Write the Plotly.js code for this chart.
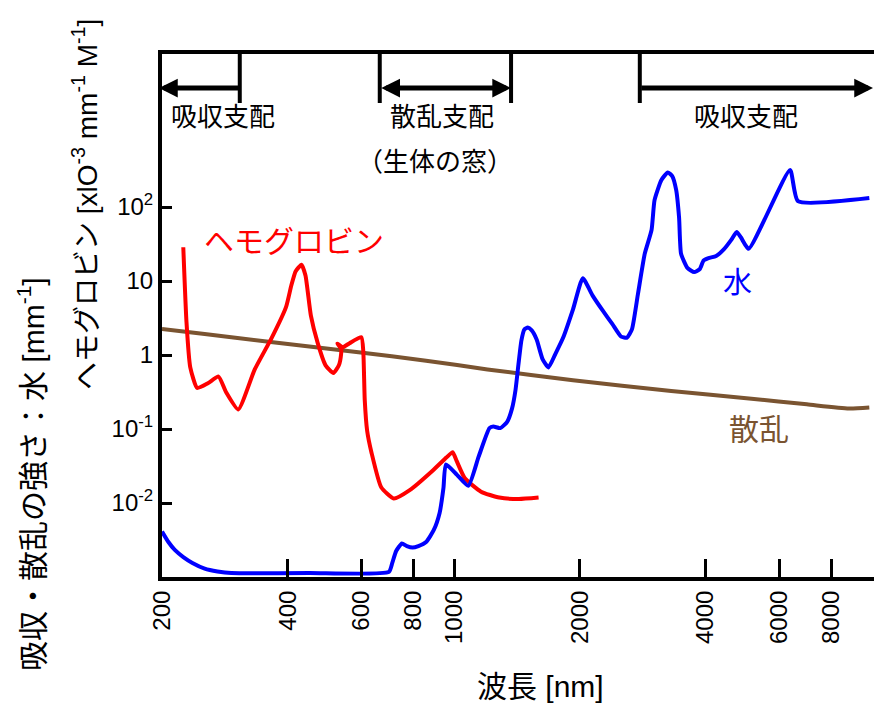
<!DOCTYPE html>
<html>
<head>
<meta charset="utf-8">
<script src="https://cdn.plot.ly/plotly-3.0.1.min.js"></script>
<style>html,body{margin:0;padding:0;background:#fff;}#chart{width:874px;height:707px;}</style>
</head>
<body>
<div id="chart"></div>
<script>
// ---- data ----
const xTickVals = [200, 400, 600, 800, 1000, 2000, 4000, 6000, 8000];
const xTickText = ['200', '400', '600', '800', '1000', '2000', '4000', '6000', '8000'];
const yTickVals = [0.01, 0.1, 1, 10, 100];
const yTickText = ['10<sup>-2</sup>', '10<sup>-1</sup>', '1', '10', '10<sup>2</sup>'];

// hemoglobin
const hbWl = [224.9, 228.9, 233.7, 242.8, 257.5, 273.1, 284.6, 304.5, 333.4, 366.3,
  396.5, 407.8, 417.8, 431.5, 441.0, 454.3, 471.8, 492.6, 514.4, 530.0,
  536.6, 536.6, 525.7, 541.6, 562.3, 600.0, 606.4, 611.3, 619.5, 634.5,
  669.3, 717.3, 783.2, 889.6, 958.4, 992.1, 1013.6, 1061.4, 1160.3, 1283.1,
  1429.9, 1593.2];
const hbAbs = [28.6, 2.78, 0.681, 0.359, 0.415, 0.511, 0.316, 0.184, 0.639, 1.717,
  4.51, 8.68, 13.56, 16.62, 11.85, 3.40, 1.447, 0.726, 0.572, 0.726,
  1.029, 1.220, 1.427, 1.273, 1.447, 1.741, 1.121, 0.245, 0.094, 0.0479,
  0.01634, 0.01148, 0.01491, 0.02754, 0.0411, 0.0486, 0.0374, 0.02154, 0.01423, 0.01184,
  0.01131, 0.01184];

// water
const waterWl = [200, 207.2, 214.6, 224.9, 236.5, 253.0, 271.5, 293.0, 450.6, 698.4,
  711.5, 726.8, 750.4, 770.7, 795.8, 821.5, 857.2, 894.4, 923.4, 943.2,
  955.8, 1016.4, 1081.6, 1145.0, 1215.3, 1241.9, 1290.0, 1339.8, 1376.6, 1403.0,
  1426.0, 1449.4, 1473.1, 1501.3, 1534.2, 1576.3, 1628.4, 1682.1, 1747.1, 1824.5,
  1925.9, 2032.8, 2145.9, 2265.3, 2391.3, 2510.8, 2593.7, 2664.9, 2752.9, 2859.3,
  2969.7, 3018.4, 3134.9, 3247.3, 3327.4, 3400.3, 3455.9, 3493.6, 3622.6, 3754.5,
  3872.2, 3957.0, 4063.7, 4238.6, 4421.0, 4611.2, 4746.6, 4860.5, 5069.6, 6370,
  6652.8, 9858];
const waterAbs = [0.00412, 0.00297, 0.00232, 0.00186, 0.00155, 0.00130, 0.00119, 0.00113, 0.00113, 0.00117,
  0.00155, 0.00225, 0.00284, 0.00262, 0.00250, 0.00262, 0.00297, 0.00432, 0.00733, 0.0159,
  0.0331, 0.0240, 0.0171, 0.0423, 0.103, 0.108, 0.103, 0.125, 0.190, 0.337,
  0.750, 1.58, 2.22, 2.35, 2.15, 1.62, 0.88, 0.68, 1.03, 1.72,
  4.14, 10.9, 6.35, 4.03, 2.63, 1.77, 1.72, 2.22, 6.53, 23.3,
  49.1, 124, 232, 293, 262, 170, 71.3, 23.3, 14.9, 13.2,
  14.5, 19.0, 20.4, 21.8, 26.7, 36.2, 45.9, 38.7, 27.2, 316,
  120, 132];

// scattering
const scatWl = [200, 253.0, 359.9, 590.4, 857.2, 1202.3, 1925.9, 3309.4, 5150.3, 6985.5, 8810, 9858];
const scatVal = [2.248, 1.923, 1.510, 1.089, 0.839, 0.639, 0.457, 0.3265, 0.2568, 0.2154, 0.1896, 0.1957];

// region boundaries (nm) of the top arrows
const regionEdges = [307, 664, 1369, 2783];

// ---- layout geometry ----
const W = 874, H = 707;
const L = 162, R = 0, T = 54, B = 130;
const PW = W - L - R, PH = H - T - B;
const xr = [Math.log10(200), 4.005];
const yr = [-3.0, 4.068];
const px2paper = p => (p - L) / PW;
const py2paper = p => (H - B - p) / PH;
const wl2px = w => L + (Math.log10(w) - xr[0]) / (xr[1] - xr[0]) * PW;

const CJK = 'Liberation Sans, Arial, Noto Sans CJK JP, sans-serif';
const brown = '#7a5431';

const traces = [
  {x: scatWl, y: scatVal, mode: 'lines', line: {color: brown, width: 4, shape: 'spline', smoothing: 0.6}, hoverinfo: 'skip'},
  {x: hbWl, y: hbAbs, mode: 'lines', line: {color: '#ff0000', width: 4, shape: 'spline', smoothing: 0.5}, hoverinfo: 'skip'},
  {x: waterWl, y: waterAbs, mode: 'lines', line: {color: '#0000ff', width: 4, shape: 'spline', smoothing: 0.5}, hoverinfo: 'skip'}
];

const arrowY = py2paper(88);
const e = regionEdges.map(wl2px);
const arrowCommon = {xref: 'paper', yref: 'paper', y: arrowY, ay: 0, text: '', showarrow: true,
  arrowcolor: 'black', arrowwidth: 5, arrowhead: 2, arrowsize: 0.75, standoff: 0, startstandoff: 0};

function txt(t, xpx, ypx, size, color, extra) {
  return Object.assign({xref: 'paper', yref: 'paper', x: px2paper(xpx), y: py2paper(ypx), text: t,
    showarrow: false, xanchor: 'center', yanchor: 'middle',
    font: {family: CJK, size: size, color: color || 'black'}}, extra || {});
}

const annotations = [
  Object.assign({}, arrowCommon, {x: px2paper(159), ax: e[0] - 159}),
  Object.assign({}, arrowCommon, {x: px2paper(e[2]), ax: e[1] - e[2], arrowside: 'end+start', startarrowhead: 2, startarrowsize: 0.75}),
  Object.assign({}, arrowCommon, {x: 1.0, ax: e[3] - W}),
  txt('吸収支配', 223, 117, 26),
  txt('散乱支配', 442, 117, 26),
  txt('（生体の窓）', 435, 162, 26),
  txt('吸収支配', 746, 117, 26),
  txt('ヘモグロビン', 294, 241, 30, '#ff0000'),
  txt('水', 737, 283, 29, '#0000ff'),
  txt('散乱', 759, 429, 30, brown),
  txt('波長 [nm]', 540, 686, 30),
  txt('吸収・散乱の強さ：水 [mm<sup>-1</sup>]', 31, 474, 30, 'black', {textangle: -90}),
  txt('ヘモグロビン [xlO<sup>-3</sup> mm<sup>-1</sup> M<sup>-1</sup>]', 85, 205, 28, 'black', {textangle: -90})
];

const shapes = e.map(p => ({type: 'line', xref: 'paper', yref: 'paper',
  x0: px2paper(p), x1: px2paper(p), y0: py2paper(103), y1: py2paper(53),
  line: {color: 'black', width: 4}}));

const layout = {
  width: W, height: H,
  margin: {l: L, r: R, t: T, b: B, pad: 0},
  paper_bgcolor: '#ffffff', plot_bgcolor: '#ffffff',
  showlegend: false,
  font: {family: CJK, color: 'black', size: 24},
  xaxis: {type: 'log', range: xr, tickmode: 'array', tickvals: xTickVals, ticktext: xTickText,
    tickangle: -90, ticks: 'inside', ticklen: 18, tickwidth: 3, tickcolor: 'black',
    showline: true, linewidth: 4, linecolor: 'black', mirror: true,
    showgrid: false, zeroline: false, tickfont: {family: 'Liberation Sans, Arial, sans-serif', size: 24}},
  yaxis: {type: 'log', range: yr, tickmode: 'array', tickvals: yTickVals, ticktext: yTickText,
    ticks: 'inside', ticklen: 10, tickwidth: 3, tickcolor: 'black',
    showline: true, linewidth: 4, linecolor: 'black', mirror: false,
    showgrid: false, zeroline: false, tickfont: {family: 'Liberation Sans, Arial, sans-serif', size: 24}},
  annotations: annotations,
  shapes: shapes
};

Plotly.newPlot('chart', traces, layout, {displayModeBar: false, staticPlot: true});
</script>
</body>
</html>
